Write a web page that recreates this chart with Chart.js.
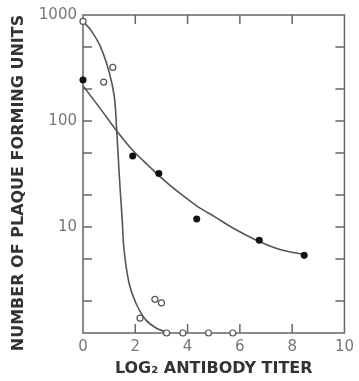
<!DOCTYPE html>
<html>
<head>
<meta charset="utf-8">
<script src="https://cdn.jsdelivr.net/npm/chart.js@4/dist/chart.umd.min.js"></script>
<style>
  html, body { margin: 0; padding: 0; background: #fff; }
  #wrap { width: 359px; height: 381px; }
</style>
</head>
<body>
<div id="wrap"><canvas id="c"></canvas></div>
<script>
// Axis ticks
const xTickValues = [0, 2, 4, 6, 8, 10];
const yTickValues = [1, 2, 5, 10, 20, 50, 100, 200, 500, 1000];
const yLabelValues = [10, 100, 1000];
const yTitle = 'NUMBER OF PLAQUE FORMING UNITS';
const xTitle = 'LOG₂ ANTIBODY TITER';

// Filled circles and their fitted curve
const filledX = [0, 1.9, 2.9, 4.35, 6.74, 8.46];
const filledY = [244, 46.7, 32, 11.9, 7.5, 5.4];
const filledCurveX = [0, 0.64, 1.27, 1.9, 2.5, 3.15, 3.8, 4.4, 5.06, 5.7, 6.74, 7.57, 8.45];
const filledCurveY = [215, 133, 82, 53, 38, 27, 20, 15.5, 12.4, 9.9, 7.3, 6.1, 5.5];

// Open circles and their fitted curve
const openX = [0, 0.79, 1.14, 2.18, 2.75, 3.0, 3.2, 3.82, 4.8, 5.73];
const openY = [870, 233, 320, 1.38, 2.08, 1.92, 1, 1, 1, 1];
const openCurveX = [0, 0.30, 0.67, 1.01, 1.20, 1.28, 1.39, 1.50, 1.57, 1.76, 2.02, 2.40, 2.81, 3.18];
const openCurveY = [870, 720, 500, 284, 168, 90, 30, 11.6, 6.1, 2.96, 1.92, 1.33, 1.11, 1.02];

const pts = (xs, ys) => xs.map((x, i) => ({ x: x, y: ys[i] }));

const INK = '#555';
const AXIS = '#666';

// Box frame with inward tick marks on all four sides
const framePlugin = {
  id: 'frame',
  beforeDatasetsDraw(chart) {
    const { ctx, chartArea: { left, right, top, bottom }, scales: { x, y } } = chart;
    const len = 9;
    ctx.save();
    ctx.strokeStyle = AXIS;
    ctx.lineWidth = 1.5;
    ctx.strokeRect(left, top, right - left, bottom - top);
    ctx.beginPath();
    xTickValues.slice(1, -1).forEach(v => {
      const px = x.getPixelForValue(v);
      ctx.moveTo(px, bottom); ctx.lineTo(px, bottom - len);
      ctx.moveTo(px, top); ctx.lineTo(px, top + len);
    });
    yTickValues.slice(1, -1).forEach(v => {
      const py = y.getPixelForValue(v);
      ctx.moveTo(left, py); ctx.lineTo(left + len, py);
      ctx.moveTo(right, py); ctx.lineTo(right - len, py);
    });
    ctx.stroke();
    ctx.restore();
  }
};

// Rotated y-axis title, set a little below the plot's vertical centre
const yTitlePlugin = {
  id: 'yTitle',
  afterDraw(chart) {
    const { ctx, chartArea: { top, bottom } } = chart;
    ctx.save();
    ctx.translate(19, (top + bottom) / 2 + 9);
    ctx.rotate(-Math.PI / 2);
    ctx.font = 'bold 16px "DejaVu Sans"';
    ctx.fillStyle = '#333';
    ctx.textAlign = 'center';
    ctx.textBaseline = 'middle';
    ctx.fillText(yTitle, 0, 0);
    ctx.restore();
  }
};

new Chart(document.getElementById('c'), {
  type: 'scatter',
  data: {
    datasets: [
      {
        data: pts(filledX, filledY),
        pointRadius: 3.3,
        pointBackgroundColor: '#111',
        pointBorderColor: '#111',
        pointBorderWidth: 0.5,
        showLine: false,
        clip: false
      },
      {
        data: pts(openX, openY),
        pointRadius: 3,
        pointBackgroundColor: '#fff',
        pointBorderColor: INK,
        pointBorderWidth: 1.2,
        showLine: false,
        clip: false
      },
      {
        data: pts(filledCurveX, filledCurveY),
        showLine: true,
        pointRadius: 0,
        borderColor: INK,
        borderWidth: 1.6,
        cubicInterpolationMode: 'monotone'
      },
      {
        data: pts(openCurveX, openCurveY),
        showLine: true,
        pointRadius: 0,
        borderColor: INK,
        borderWidth: 1.6,
        tension: 0.35
      }
    ]
  },
  options: {
    responsive: true,
    maintainAspectRatio: false,
    animation: false,
    devicePixelRatio: 1,
    layout: { padding: { top: 15, right: 9, left: 0, bottom: 0 } },
    plugins: { legend: { display: false }, tooltip: { enabled: false } },
    scales: {
      x: {
        type: 'linear',
        min: 0,
        max: 10,
        afterBuildTicks: s => { s.ticks = xTickValues.map(v => ({ value: v })); },
        afterFit: s => { s.height = 48; },
        grid: { display: false, drawTicks: false },
        border: { display: false },
        ticks: {
          padding: 5,
          autoSkip: false,
          maxRotation: 0,
          color: '#777',
          font: { family: 'DejaVu Sans', size: 15 },
          callback: v => String(v)
        },
        title: {
          display: true,
          text: xTitle,
          color: '#333',
          font: { family: 'DejaVu Sans', size: 16, weight: 'bold' },
          padding: { top: 0, bottom: 3 }
        }
      },
      y: {
        type: 'logarithmic',
        min: 1,
        max: 1000,
        afterBuildTicks: s => { s.ticks = yTickValues.map(v => ({ value: v })); },
        afterFit: s => { s.width = 83; },
        grid: { display: false, drawTicks: false },
        border: { display: false },
        ticks: {
          padding: 6,
          autoSkip: false,
          color: '#777',
          font: { family: 'DejaVu Sans', size: 15 },
          callback: v => yLabelValues.includes(v) ? String(v) : ''
        },
        title: { display: false }
      }
    }
  },
  plugins: [framePlugin, yTitlePlugin]
});
</script>
</body>
</html>
